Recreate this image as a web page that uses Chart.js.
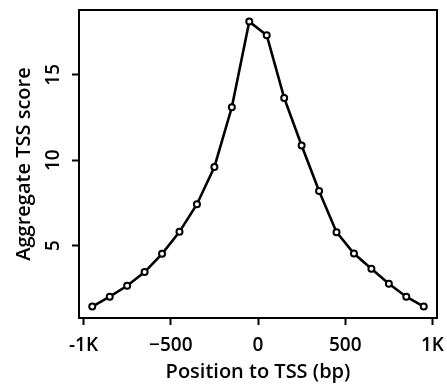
<!DOCTYPE html>
<html>
<head>
<meta charset="utf-8">
<script src="https://cdn.jsdelivr.net/npm/chart.js@4"></script>
<style>
html,body{margin:0;padding:0;background:#fff;}
#c{display:block;}
</style>
</head>
<body>
<canvas id="c" width="447" height="388"></canvas>
<script>
// ---- data ----
const positions = [-950,-850,-750,-650,-550,-450,-350,-250,-150,-50,50,150,250,350,450,550,650,750,850,950];
const scores = [1.42,2.0,2.64,3.44,4.51,5.80,7.42,9.6,13.1,18.12,17.32,13.65,10.86,8.19,5.78,4.53,3.64,2.76,2.0,1.42];
const xTickValues = [-1000,-500,0,500,1000];
const xTickLabels = ['-1K','\u2212500','0','500','1K'];
const yTickValues = [5,10,15];
const yTickLabels = ['5','10','15'];
const xTitle = 'Position to TSS (bp)';
const yTitle = 'Aggregate TSS score';

const FONT = "'Open Sans', 'Noto Sans', sans-serif";

const boxPlugin = {
  id: 'box',
  afterDatasetsDraw(chart) {
    const a = chart.chartArea, ctx = chart.ctx;
    ctx.save();
    ctx.strokeStyle = '#000';
    ctx.lineWidth = 2;
    ctx.strokeRect(a.left, a.top, a.right - a.left, a.bottom - a.top);
    ctx.restore();
  }
};

new Chart(document.getElementById('c'), {
  type: 'scatter',
  data: {
    datasets: [{
      data: positions.map((x, i) => ({x: x, y: scores[i]})),
      showLine: true,
      borderColor: '#000',
      borderWidth: 2.6,
      pointRadius: 3,
      pointBorderWidth: 2,
      pointBackgroundColor: '#fff',
      pointBorderColor: '#000',
      tension: 0
    }]
  },
  options: {
    responsive: false,
    animation: false,
    devicePixelRatio: 1,
    layout: {padding: {top: 10, right: 10, left: 0, bottom: 0}},
    plugins: {legend: {display: false}, tooltip: {enabled: false}},
    scales: {
      x: {
        type: 'linear',
        min: -1026, max: 1026,
        afterBuildTicks: s => { s.ticks = xTickValues.map(v => ({value: v})); },
        afterFit: s => { s.height = 70; s.paddingLeft = 0; s.paddingRight = 0; },
        border: {display: false},
        grid: {drawOnChartArea: false, drawTicks: true, tickLength: 7, tickWidth: 2, tickColor: '#000'},
        ticks: {
          color: '#000', padding: 9.5, maxRotation: 0, autoSkip: false,
          font: {family: FONT, size: 19, weight: '600'},
          callback: (v) => { const i = xTickValues.indexOf(v); return i >= 0 ? xTickLabels[i] : ''; }
        },
        title: {display: true, text: xTitle, color: '#000', font: {family: FONT, size: 20, weight: '600'}, padding: {top: 0, bottom: 4}}
      },
      y: {
        type: 'linear',
        min: 0.75, max: 18.8,
        afterBuildTicks: s => { s.ticks = yTickValues.map(v => ({value: v})); },
        afterFit: s => { s.width = 79; s.paddingTop = 0; s.paddingBottom = 0; },
        border: {display: false},
        grid: {drawOnChartArea: false, drawTicks: true, tickLength: 7, tickWidth: 2, tickColor: '#000'},
        ticks: {
          color: '#000', padding: 8, minRotation: 90, maxRotation: 90, crossAlign: 'center', autoSkip: false,
          font: {family: FONT, size: 19, weight: '600'},
          callback: (v) => { const i = yTickValues.indexOf(v); return i >= 0 ? yTickLabels[i] : ''; }
        },
        title: {display: true, text: yTitle, color: '#000', font: {family: FONT, size: 20, weight: '600'}, padding: {top: 12.5, bottom: 0}}
      }
    }
  },
  plugins: [boxPlugin]
});
</script>
</body>
</html>
